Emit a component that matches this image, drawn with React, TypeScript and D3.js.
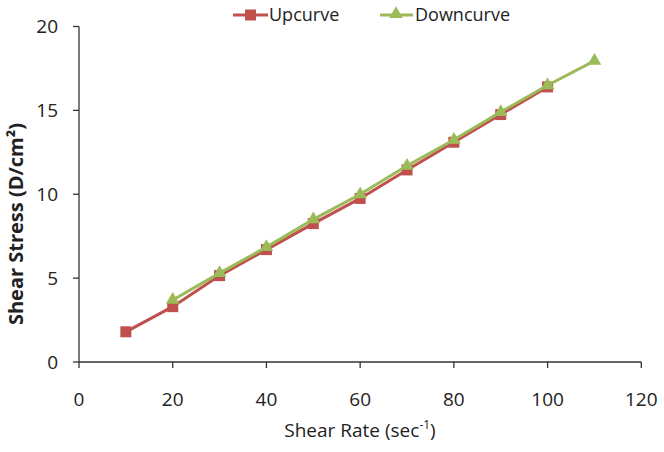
import React from "react";
import * as d3 from "d3";

const upX = [10, 20, 30, 40, 50, 60, 70, 80, 90, 100];
const upY = [1.8, 3.3, 5.15, 6.7, 8.25, 9.75, 11.45, 13.1, 14.75, 16.4];
const downX = [20, 30, 40, 50, 60, 70, 80, 90, 100, 110];
const downY = [3.7, 5.3, 6.85, 8.5, 10.0, 11.7, 13.25, 14.9, 16.5, 17.95];
const xTicks = [0, 20, 40, 60, 80, 100, 120];
const yTicks = [0, 5, 10, 15, 20];
const seriesNames = ["Upcurve", "Downcurve"];

const RED = "#C0504D";
const GREEN = "#9BBB59";
const FONT = "'Open Sans', sans-serif";

export default function App() {
  const W = 664, H = 452;
  const x = d3.scaleLinear().domain([0, 120]).range([79, 641.3]);
  const y = d3.scaleLinear().domain([0, 20]).range([362, 26.5]);
  const line = d3.line<[number, number]>().x(d => x(d[0])).y(d => y(d[1]));
  const up: [number, number][] = upX.map((v, i) => [v, upY[i]]);
  const down: [number, number][] = downX.map((v, i) => [v, downY[i]]);
  const tri = d3.symbol().type(d3.symbolTriangle).size(80)();
  const sq = 11;

  return (
    <svg width={W} height={H} style={{ position: "absolute", left: 0, top: 0, background: "#fff" }}>
      {/* axes */}
      <line x1={x(0)} x2={x(0)} y1={y(20)} y2={y(0)} stroke="#333" strokeWidth={1.3} />
      <line x1={x(0)} x2={x(120)} y1={y(0)} y2={y(0)} stroke="#333" strokeWidth={1.3} />
      {yTicks.map(t => (
        <g key={"y" + t}>
          <line x1={x(0) - 6} x2={x(0)} y1={y(t)} y2={y(t)} stroke="#333" strokeWidth={1.3} />
          <text x={x(0) - 21} y={y(t)} dy="0.36em" textAnchor="end" fontFamily={FONT} fontSize={19} fill="#222">{t}</text>
        </g>
      ))}
      {xTicks.map(t => (
        <g key={"x" + t}>
          <line x1={x(t)} x2={x(t)} y1={y(0)} y2={y(0) + 6} stroke="#333" strokeWidth={1.3} />
          <text x={x(t)} y={406} textAnchor="middle" fontFamily={FONT} fontSize={19} fill="#222">{t}</text>
        </g>
      ))}
      {/* axis titles */}
      <text x={360} y={437} textAnchor="middle" fontFamily={FONT} fontSize={19} fill="#222">
        Shear Rate (sec<tspan baselineShift="super" fontSize={12}>-1</tspan>)
      </text>
      <text transform={`translate(23,224) rotate(-90)`} textAnchor="middle" fontFamily={FONT} fontSize={20} fontWeight="bold" fill="#222">
        Shear Stress (D/cm²)
      </text>
      {/* series */}
      <path d={line(up) || ""} fill="none" stroke={RED} strokeWidth={3} />
      {up.map((d, i) => (
        <rect key={"u" + i} x={x(d[0]) - sq / 2} y={y(d[1]) - sq / 2} width={sq} height={sq} fill={RED} />
      ))}
      <path d={line(down) || ""} fill="none" stroke={GREEN} strokeWidth={3} />
      {down.map((d, i) => (
        <path key={"d" + i} d={tri || ""} transform={`translate(${x(d[0])},${y(d[1])})`} fill={GREEN} />
      ))}
      {/* legend */}
      <g>
        <line x1={233} x2={268} y1={15} y2={15} stroke={RED} strokeWidth={3} />
        <rect x={245} y={9.5} width={11} height={11} fill={RED} />
        <text x={269} y={15} dy="0.36em" fontFamily={FONT} fontSize={18} fill="#222">{seriesNames[0]}</text>
        <line x1={380} x2={413} y1={15} y2={15} stroke={GREEN} strokeWidth={3} />
        <path d={tri || ""} transform="translate(396,14)" fill={GREEN} />
        <text x={415} y={15} dy="0.36em" fontFamily={FONT} fontSize={18} fill="#222">{seriesNames[1]}</text>
      </g>
    </svg>
  );
}
